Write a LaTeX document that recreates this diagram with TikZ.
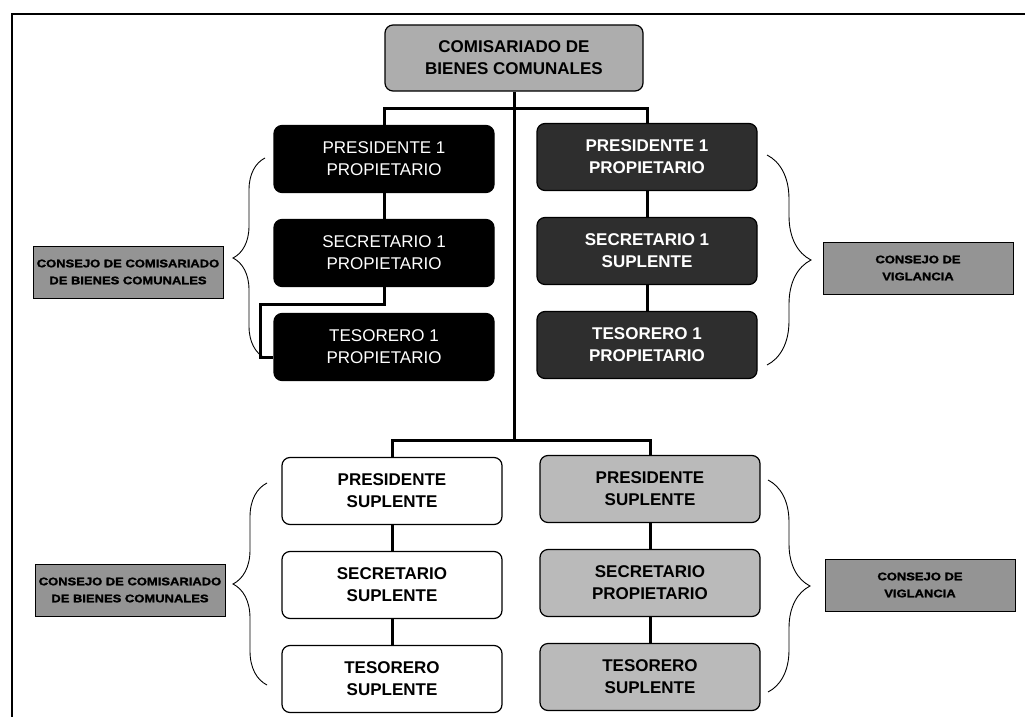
\documentclass[tikz,border=0pt]{standalone}
\usepackage{fontspec}
\setmainfont{Liberation Sans}
\newfontfamily\labelfont[FakeStretch=1.18, FakeBold=1.6]{Liberation Sans}
\usetikzlibrary{positioning,decorations.pathreplacing}
\begin{document}
\begin{tikzpicture}[x=1pt, y=-1pt, node distance=94pt,
  box/.style = {draw, line width=1.2pt, rounded corners=8pt, minimum width=220pt, minimum height=67pt, inner sep=0pt, align=center, font=\fontsize{17}{22}\selectfont},
  cabeza/.style = {box, fill=black!32, minimum width=258pt, minimum height=66pt, font=\fontsize{17}{22}\selectfont\bfseries},
  prop/.style = {box, fill=black, text=white},
  vig/.style = {box, fill=black!82, text=white, font=\fontsize{17}{22}\selectfont\bfseries},
  supl/.style = {box, fill=white, font=\fontsize{17}{22}\selectfont\bfseries},
  vsupl/.style = {box, fill=black!27, font=\fontsize{17}{22}\selectfont\bfseries},
  consejo/.style = {draw, line width=1pt, fill=black!42, minimum width=190pt, minimum height=52pt, inner sep=0pt, align=center, font=\labelfont\fontsize{11}{17}\selectfont\bfseries},
  link/.style = {line width=3pt},
  llave/.style = {decorate, decoration={brace, amplitude=#1}, line width=0.9pt}]
	\useasboundingbox (0,0) rectangle (1025,717);
	\draw[line width=1.8pt] (12,717) -- (12,14) -- (1025,14);
	
	\node[cabeza] (c) at (514,58) {COMISARIADO DE\\BIENES COMUNALES};
	
	\node[prop] (a1) at (384,159) {PRESIDENTE 1\\PROPIETARIO};
	\node[prop] (a2) [below of=a1] {SECRETARIO 1\\PROPIETARIO};
	\node[prop] (a3) [below of=a2] {TESORERO 1\\PROPIETARIO};
	
	\node[vig] (b1) at (647,157) {PRESIDENTE 1\\PROPIETARIO};
	\node[vig] (b2) [below of=b1] {SECRETARIO 1\\SUPLENTE};
	\node[vig] (b3) [below of=b2] {TESORERO 1\\PROPIETARIO};
	
	\node[supl] (d1) at (392,491) {PRESIDENTE\\SUPLENTE};
	\node[supl] (d2) [below of=d1] {SECRETARIO\\SUPLENTE};
	\node[supl] (d3) [below of=d2] {TESORERO\\SUPLENTE};
	
	\node[vsupl] (e1) at (650,489) {PRESIDENTE\\SUPLENTE};
	\node[vsupl] (e2) [below of=e1] {SECRETARIO\\PROPIETARIO};
	\node[vsupl] (e3) [below of=e2] {TESORERO\\SUPLENTE};
	
	\node[consejo] (k1) at (128,272) {CONSEJO DE COMISARIADO\\DE BIENES COMUNALES};
	\node[consejo] (k2) at (918,268) {CONSEJO DE\\VIGLANCIA};
	\node[consejo] (k3) at (130,590) {CONSEJO DE COMISARIADO\\DE BIENES COMUNALES};
	\node[consejo] (k4) at (920,585) {CONSEJO DE\\VIGLANCIA};
	
	\coordinate (ub) at (515,108);
	\coordinate (lb) at (515,440);
	
	\draw[link] (c.south) -- (c.south |- lb);
	\draw[link] (a1.north) -- (a1.north |- ub) -- (b1.north |- ub) -- (b1.north);
	\draw[link] (d1.north) -- (d1.north |- lb) -- (e1.north |- lb) -- (e1.north);
	\draw[link] (a1) -- (a2);
	\draw[link] (a2.south) -- ++(0,17) -| ([shift={(-13pt,-10pt)}]a3.west) -- ([yshift=-10pt]a3.west);
	\draw[link] (b1) -- (b2);
	\draw[link] (b2) -- (b3);
	\draw[link] (d1) -- (d2);
	\draw[link] (d2) -- (d3);
	\draw[link] (e1) -- (e2);
	\draw[link] (e2) -- (e3);
	
	\draw[llave=32pt] (265,358) -- (265,158);
	\draw[llave=44pt] (767,155) -- (767,365);
	\draw[llave=34pt] (267,685) -- (267,483);
	\draw[llave=42pt] (768,480) -- (768,692);
	
\end{tikzpicture}
\end{document}
